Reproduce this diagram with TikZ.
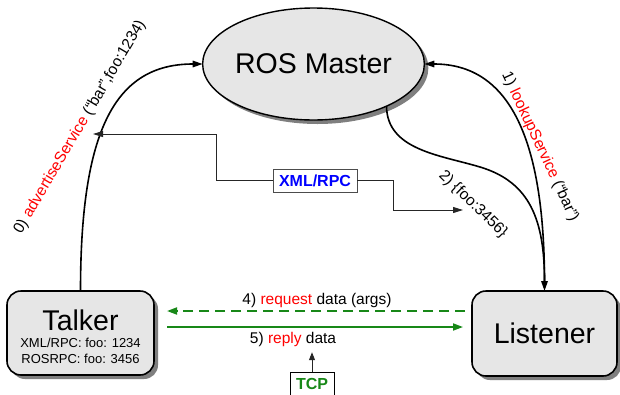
\documentclass[tikz,border=0pt]{standalone}
\usepackage{fontspec}
\setmainfont{Liberation Sans}
\usetikzlibrary{arrows.meta,shadows,calc,shapes.geometric}

\definecolor{boxfill}{HTML}{E6E6E6}
\definecolor{shadegray}{HTML}{7F7F7F}
\definecolor{linkgreen}{RGB}{24,136,24}
\definecolor{callred}{HTML}{FF0000}
\definecolor{rpcblue}{HTML}{0000FF}
\newcommand\setfs[1]{\fontsize{#1pt}{#1pt}\selectfont}

\begin{document}
\begin{tikzpicture}[x=1pt,y=-1pt,
  every node/.style={inner sep=0pt,outer sep=0pt},
  boxshadow/.style={drop shadow={shadow xshift=4pt,shadow yshift=-4pt,fill=shadegray,opacity=1}},
  procbox/.style={draw=black,line width=1.6pt,fill=boxfill,rounded corners=14pt,boxshadow},
  masterbox/.style={ellipse,draw=black,line width=1.4pt,fill=boxfill,
    minimum width=207pt,minimum height=112pt,boxshadow,font=\setfs{28.5}},
  bigtext/.style={font=\setfs{28.5}},
  smalltext/.style={font=\setfs{13}},
  calltext/.style={font=\setfs{15.5}},
  callarrow/.style={line width=1.6pt,-{Triangle[length=10pt,width=6.5pt]}},
  rpcline/.style={line width=0.9pt,draw=black!85},
  rpctip/.style={-{Triangle[length=10pt,width=6pt]}},
  rpcbox/.style={draw=black!70,line width=1pt,fill=white,minimum width=84pt,minimum height=23pt,
    font=\setfs{16}\bfseries,text=rpcblue},
  tcpbox/.style={draw=black,line width=1pt,fill=white,minimum width=44pt,minimum height=24pt,
    font=\setfs{16}\bfseries,text=linkgreen},
  dataline/.style={line width=1.8pt,draw=linkgreen,-{Triangle[length=10pt,width=7pt]}},
]
\clip (0,0) rectangle (620,394);
\fill[white] (0,0) rectangle (620,394);

% processes
\node[masterbox] (master) at (313.5,64) {ROS Master};
\node[procbox,minimum width=147pt,minimum height=84pt] (talker) at (80.5,333) {};
\node[procbox,minimum width=145pt,minimum height=85pt,bigtext] (listener) at (544.5,333.5) {Listener};

\node[bigtext,anchor=base] (talkername) at (80.5,330) {Talker};
\node[smalltext,anchor=base] (talkerxml) at (80.5,347) {XML/RPC: foo: 1234};
\node[smalltext,anchor=base] (talkerros) at (80.5,363) {ROSRPC: foo: 3456};

% master calls
\draw[callarrow] (talker.north) .. controls (80.5,130) and (115,64) .. (master.west);
\draw[callarrow] ([yshift=8pt]listener.north) .. controls (544.5,140) and (510,64) .. (master.east);
\draw[callarrow] (master.-30) .. controls (387,150) and (440,155) .. (480,167)
  .. controls (530,182) and (544.5,220) .. (listener.north);

\node[calltext,rotate=59.5] (advlabel) at (80,127)
  {0) \textcolor{callred}{advertiseService} (“bar”,foo:1234)};
\node[calltext,rotate=-65] (lookuplabel) at (540,147)
  {1) \textcolor{callred}{lookupService} (“bar”)};
\node[calltext,rotate=-44] (replylabel) at (473,204) {2) \{foo:3456\}};

% XML/RPC link
\node[rpcbox] (rpc) at (315,180.5) {XML/RPC};
\coordinate (advtip) at (93,134);
\coordinate (lookuptip) at (463,210);
\draw[rpcline,rpctip] (rpc.west) -| (216,134) -- (advtip);
\draw[rpcline,rpctip] (rpc.east) -| (393,210) -- (lookuptip);

% TCP data exchange
\coordinate (reqstart) at ($(listener.west)+(-7,-22.5)$);
\coordinate (reqend) at ($(talker.east)+(13,-22)$);
\coordinate (repstart) at ($(talker.east)+(13,-6)$);
\coordinate (repend) at ($(listener.west)+(-9,-6.5)$);
\draw[dataline,dash pattern=on 10pt off 6pt] (reqstart) -- (reqend);
\draw[dataline] (repstart) -- (repend);

\node[calltext,anchor=base] (reqtext) at (317,304)
  {4) \textcolor{callred}{request} data (args)};
\node[calltext,anchor=base] (reptext) at (293,343)
  {5) \textcolor{callred}{reply} data};

\node[tcpbox] (tcp) at (312,384) {TCP};
\draw[rpcline,shorten >=6pt,-{Triangle[length=8pt,width=6pt]}] (tcp.north) -- (tcp.north |- reptext.south);
\end{tikzpicture}
\end{document}
